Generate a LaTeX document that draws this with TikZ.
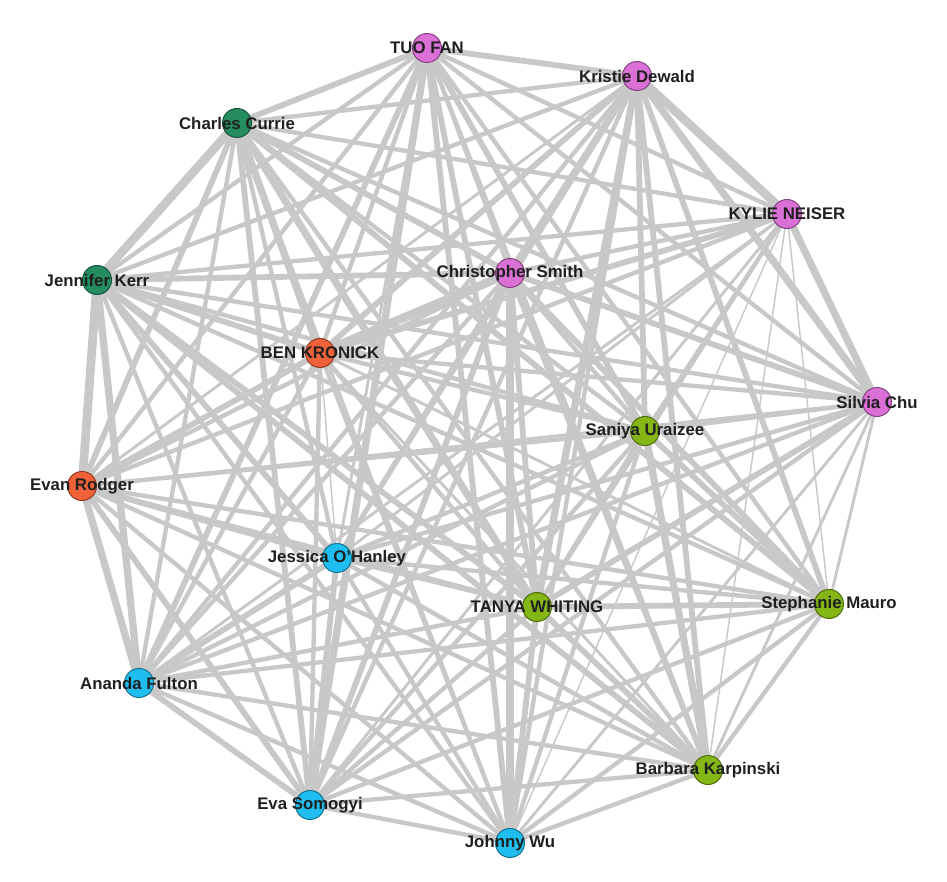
\documentclass[tikz,border=0pt]{standalone}
\usepackage{fontspec}
\setmainfont{Liberation Sans}
\pgfdeclarelayer{edges}
\pgfsetlayers{edges,main}
\definecolor{orchidc}{RGB}{218,112,214}
\definecolor{greenc}{RGB}{36,140,95}
\definecolor{orangec}{RGB}{242,98,58}
\definecolor{limec}{RGB}{132,182,22}
\definecolor{cyanc}{RGB}{30,190,240}
\definecolor{edgec}{RGB}{200,200,200}
\tikzset{
  person/.style={circle, minimum size=29pt, inner sep=0pt, line width=1pt},
  orchidn/.style={person, fill=orchidc, draw=orchidc!60!black},
  greenn/.style={person, fill=greenc, draw=greenc!60!black},
  orangen/.style={person, fill=orangec, draw=orangec!60!black},
  limen/.style={person, fill=limec, draw=limec!60!black},
  cyann/.style={person, fill=cyanc, draw=cyanc!60!black},
  lbl/.style={font=\fontsize{16.8}{18}\selectfont\bfseries, text=black!88, inner sep=0pt},
  link/.style={draw=edgec}
}
\begin{document}
\begin{tikzpicture}[x=1pt,y=-1pt]
\useasboundingbox (0,0) rectangle (947,882);
% nodes
\node[orchidn] (tf) at (427,48) {};
\node[orchidn] (kd) at (637,76) {};
\node[greenn] (cc) at (237,123) {};
\node[orchidn] (kn) at (787,214) {};
\node[greenn] (jk) at (97,280) {};
\node[orchidn] (cs) at (510,273) {};
\node[orangen] (bk) at (320,353) {};
\node[orchidn] (sc) at (877,402) {};
\node[limen] (su) at (645,431) {};
\node[orangen] (er) at (82,486) {};
\node[cyann] (jo) at (337,558) {};
\node[limen] (tw) at (537,607) {};
\node[limen] (sm) at (829,604) {};
\node[cyann] (af) at (139,683) {};
\node[limen] (bp) at (708,770) {};
\node[cyann] (es) at (310,805) {};
\node[cyann] (jw) at (510,843) {};
% edges
\begin{pgfonlayer}{edges}
\foreach \a/\b/\w in {
tf/kd/4, tf/cc/4, tf/kn/3, tf/jk/3, tf/cs/2, tf/bk/3, tf/sc/3, tf/su/4, tf/er/3, tf/jo/2, tf/tw/4, tf/sm/3, tf/af/4, tf/bp/3, tf/es/5, tf/jw/4,
kd/cc/3, kd/kn/6, kd/jk/3, kd/cs/5, kd/bk/4, kd/sc/5, kd/su/4, kd/er/2, kd/jo/3, kd/tw/5, kd/sm/4, kd/af/3, kd/bp/4, kd/es/3, kd/jw/3,
cc/kn/3, cc/jk/6, cc/cs/4, cc/bk/5, cc/sc/3, cc/su/3, cc/er/4, cc/jo/3, cc/tw/5, cc/sm/4, cc/af/3, cc/bp/3, cc/es/4, cc/jw/2,
kn/jk/3, kn/cs/3, kn/bk/4, kn/sc/5, kn/su/2, kn/er/3, kn/jo/2, kn/tw/3, kn/sm/1, kn/af/2, kn/bp/1, kn/es/2, kn/jw/1,
jk/cs/4, jk/bk/4, jk/sc/3, jk/su/3, jk/er/6, jk/jo/4, jk/tw/4, jk/sm/3, jk/af/5, jk/bp/4, jk/es/3, jk/jw/3,
cs/bk/6, cs/sc/4, cs/su/3, cs/er/3, cs/jo/3, cs/tw/4, cs/sm/4, cs/af/3, cs/bp/4, cs/es/4, cs/jw/5,
bk/sc/3, bk/su/3, bk/er/4, bk/jo/1, bk/tw/3, bk/sm/2, bk/af/3, bk/bp/2, bk/es/3, bk/jw/3,
sc/su/3, sc/er/2, sc/jo/3, sc/tw/4, sc/sm/2, sc/af/3, sc/bp/2, sc/es/3, sc/jw/2,
su/er/3, su/jo/3, su/tw/3, su/sm/4, su/af/3, su/bp/5, su/es/3, su/jw/3,
er/jo/4, er/tw/3, er/sm/3, er/af/5, er/bp/3, er/es/4, er/jw/3,
jo/tw/3, jo/sm/3, jo/af/4, jo/bp/3, jo/es/4, jo/jw/3,
tw/sm/4, tw/af/3, tw/bp/4, tw/es/3, tw/jw/4,
sm/af/3, sm/bp/3, sm/es/3, sm/jw/3,
af/bp/3, af/es/4, af/jw/3,
bp/es/3, bp/jw/3,
es/jw/3}
  \draw[link, line width=1.45*\w pt] (\a.center) -- (\b.center);
\end{pgfonlayer}
% labels
\node[lbl] at (tf) {TUO FAN};
\node[lbl] at (kd) {Kristie Dewald};
\node[lbl] at (cc) {Charles Currie};
\node[lbl] at (kn) {KYLIE NEISER};
\node[lbl] at (jk) {Jennifer Kerr};
\node[lbl] at (cs) {Christopher Smith};
\node[lbl] at (bk) {BEN KRONICK};
\node[lbl] at (sc) {Silvia Chu};
\node[lbl] at (su) {Saniya Uraizee};
\node[lbl] at (er) {Evan Rodger};
\node[lbl] at (jo) {Jessica O'Hanley};
\node[lbl] at (tw) {TANYA WHITING};
\node[lbl] at (sm) {Stephanie Mauro};
\node[lbl] at (af) {Ananda Fulton};
\node[lbl] at (bp) {Barbara Karpinski};
\node[lbl] at (es) {Eva Somogyi};
\node[lbl] at (jw) {Johnny Wu};
\end{tikzpicture}
\end{document}
